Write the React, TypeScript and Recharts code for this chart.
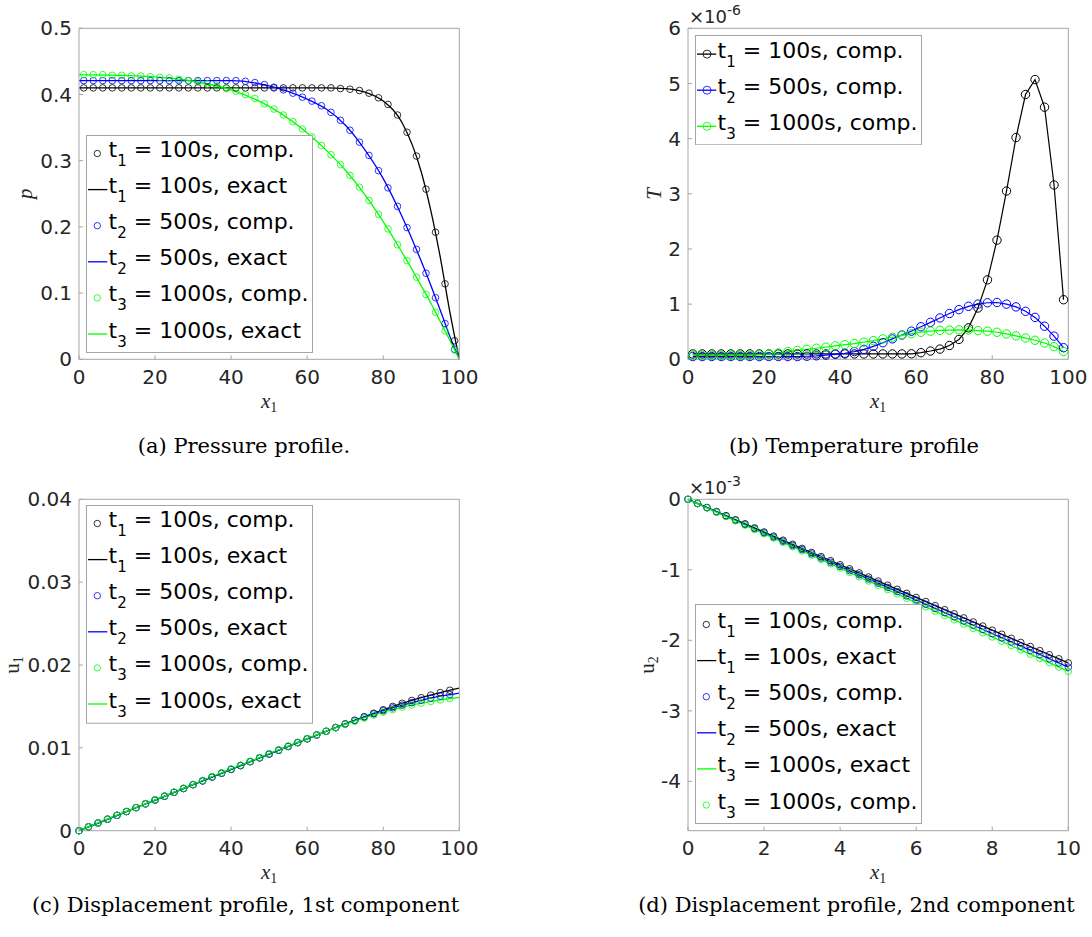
import React from "react";
import { LineChart, Line, XAxis, YAxis, Legend } from "recharts";

const FRAME = "#a5a5a5";
const INK = "#262626";
const BLACK = "#000000";
const BLUE = "#0000ff";
const GREEN = "#00ff00";

// (a) pressure and (b) temperature: cell centres
const xCells = [
  1.25, 3.75, 6.25, 8.75, 11.25, 13.75, 16.25, 18.75, 21.25, 23.75,
  26.25, 28.75, 31.25, 33.75, 36.25, 38.75, 41.25, 43.75, 46.25, 48.75,
  51.25, 53.75, 56.25, 58.75, 61.25, 63.75, 66.25, 68.75, 71.25, 73.75,
  76.25, 78.75, 81.25, 83.75, 86.25, 88.75, 91.25, 93.75, 96.25, 98.75,
];

const pComp1 = [
  0.41, 0.41, 0.41, 0.41, 0.41, 0.41, 0.41, 0.41, 0.41, 0.41,
  0.41, 0.41, 0.41, 0.41, 0.41, 0.41, 0.41, 0.41, 0.41, 0.41,
  0.41, 0.41, 0.41, 0.41, 0.41, 0.41, 0.41, 0.409, 0.408, 0.406,
  0.402, 0.395, 0.385, 0.369, 0.343, 0.307, 0.257, 0.192, 0.114, 0.028,
];
const pComp2 = [
  0.421, 0.421, 0.421, 0.421, 0.421, 0.421, 0.421, 0.421, 0.421, 0.421,
  0.421, 0.421, 0.421, 0.421, 0.421, 0.421, 0.421, 0.42, 0.418, 0.415,
  0.411, 0.407, 0.402, 0.396, 0.39, 0.383, 0.373, 0.361, 0.346, 0.328,
  0.308, 0.285, 0.259, 0.231, 0.199, 0.166, 0.13, 0.093, 0.054, 0.015,
];
const pComp3 = [
  0.43, 0.43, 0.43, 0.429, 0.429, 0.428, 0.428, 0.427, 0.426, 0.425,
  0.423, 0.421, 0.419, 0.416, 0.413, 0.409, 0.405, 0.4, 0.394, 0.386,
  0.378, 0.369, 0.359, 0.348, 0.336, 0.323, 0.309, 0.294, 0.278, 0.26,
  0.24, 0.219, 0.197, 0.173, 0.149, 0.124, 0.098, 0.071, 0.043, 0.014,
];
const pExactX = [0, 10, 20, 30, 40, 50, 60, 65, 70, 75, 80, 85, 90, 92.5, 95, 97.5, 100];
const pExact1 = [0.41, 0.41, 0.41, 0.41, 0.41, 0.41, 0.41, 0.41, 0.409, 0.404, 0.39, 0.357, 0.283, 0.225, 0.154, 0.072, 0];
const pExact2 = [0.421, 0.421, 0.421, 0.421, 0.421, 0.413, 0.393, 0.378, 0.354, 0.318, 0.273, 0.215, 0.148, 0.112, 0.074, 0.035, 0];
const pExact3 = [0.43, 0.429, 0.4265, 0.42, 0.407, 0.382, 0.342, 0.316, 0.286, 0.25, 0.208, 0.161, 0.111, 0.085, 0.057, 0.029, 0];

// (b) temperature, in units of 1e-6
const tComp1 = [
  0.097, 0.097, 0.097, 0.097, 0.097, 0.097, 0.097, 0.097, 0.097, 0.097,
  0.097, 0.097, 0.097, 0.097, 0.097, 0.097, 0.097, 0.097, 0.097, 0.097,
  0.097, 0.097, 0.097, 0.1, 0.12, 0.15, 0.185, 0.25, 0.36, 0.57,
  0.93, 1.44, 2.16, 3.05, 4.02, 4.8, 5.07, 4.57, 3.16, 1.08,
];
const tComp2 = [
  0.05, 0.05, 0.05, 0.05, 0.05, 0.05, 0.05, 0.05, 0.05, 0.05,
  0.05, 0.05, 0.055, 0.063, 0.075, 0.09, 0.11, 0.14, 0.18, 0.235,
  0.3, 0.37, 0.44, 0.51, 0.59, 0.67, 0.75, 0.83, 0.9, 0.96,
  1.0, 1.025, 1.03, 1.0, 0.95, 0.87, 0.76, 0.6, 0.42, 0.21,
];
const tComp3 = [
  0.07, 0.07, 0.07, 0.07, 0.07, 0.07, 0.07, 0.08, 0.095, 0.115,
  0.14, 0.16, 0.18, 0.2, 0.22, 0.245, 0.265, 0.285, 0.31, 0.34,
  0.37, 0.4, 0.435, 0.465, 0.49, 0.51, 0.525, 0.53, 0.535, 0.53,
  0.52, 0.51, 0.49, 0.46, 0.425, 0.385, 0.345, 0.295, 0.23, 0.14,
];

// (c) displacement u1: nodes
const uNodes = [
  0, 2.5, 5, 7.5, 10, 12.5, 15, 17.5, 20, 22.5,
  25, 27.5, 30, 32.5, 35, 37.5, 40, 42.5, 45, 47.5,
  50, 52.5, 55, 57.5, 60, 62.5, 65, 67.5, 70, 72.5,
  75, 77.5, 80, 82.5, 85, 87.5, 90, 92.5, 95, 97.5,
];
const uComp1 = [
  0, 0.00046, 0.00093, 0.00139, 0.00185, 0.00231, 0.00278, 0.00324, 0.0037, 0.00416,
  0.00463, 0.00509, 0.00555, 0.00601, 0.00648, 0.00694, 0.0074, 0.00786, 0.00833, 0.00879,
  0.00925, 0.00971, 0.01017, 0.01063, 0.01109, 0.01155, 0.012, 0.01245, 0.01289, 0.01333,
  0.01376, 0.01418, 0.0146, 0.015, 0.01537, 0.01572, 0.01605, 0.01637, 0.01667, 0.01695,
];
const uComp2 = [
  0, 0.00046, 0.00093, 0.00139, 0.00185, 0.00231, 0.00278, 0.00324, 0.0037, 0.00416,
  0.00463, 0.00509, 0.00555, 0.00601, 0.00648, 0.00694, 0.0074, 0.00786, 0.00833, 0.00879,
  0.00925, 0.00971, 0.01017, 0.01063, 0.01109, 0.01155, 0.012, 0.01245, 0.01288, 0.0133,
  0.01371, 0.0141, 0.01448, 0.01483, 0.01515, 0.01546, 0.01574, 0.016, 0.01623, 0.01643,
];
const uComp3 = [
  0, 0.00047, 0.00094, 0.0014, 0.00187, 0.00233, 0.0028, 0.00327, 0.00373, 0.0042,
  0.00466, 0.00513, 0.00559, 0.00606, 0.00652, 0.00699, 0.00745, 0.00791, 0.00838, 0.00884,
  0.0093, 0.00976, 0.01022, 0.01067, 0.01112, 0.01156, 0.012, 0.01243, 0.01284, 0.01322,
  0.0136, 0.01396, 0.0143, 0.01462, 0.01491, 0.01517, 0.0154, 0.0156, 0.01578, 0.01594,
];
const uExactX = [0, 10, 20, 30, 40, 50, 60, 70, 80, 85, 90, 95, 100];
const uExact1 = [0, 0.00185, 0.0037, 0.00555, 0.0074, 0.00925, 0.01109, 0.01289, 0.0146, 0.01537, 0.01605, 0.01667, 0.0172];
const uExact2 = [0, 0.00185, 0.0037, 0.00555, 0.0074, 0.00925, 0.01109, 0.01288, 0.01448, 0.01515, 0.01574, 0.01623, 0.0166];
const uExact3 = [0, 0.00187, 0.00373, 0.00559, 0.00745, 0.0093, 0.01112, 0.01284, 0.0143, 0.01491, 0.0154, 0.01578, 0.0161];

// (d) displacement u2, in units of 1e-3
const vNodes = [
  0, 0.25, 0.5, 0.75, 1, 1.25, 1.5, 1.75, 2, 2.25,
  2.5, 2.75, 3, 3.25, 3.5, 3.75, 4, 4.25, 4.5, 4.75,
  5, 5.25, 5.5, 5.75, 6, 6.25, 6.5, 6.75, 7, 7.25,
  7.5, 7.75, 8, 8.25, 8.5, 8.75, 9, 9.25, 9.5, 9.75, 10,
];
const vComp1 = [
  0, -0.058, -0.116, -0.174, -0.232, -0.29, -0.348, -0.406, -0.464, -0.522,
  -0.58, -0.638, -0.696, -0.754, -0.812, -0.87, -0.928, -0.986, -1.044, -1.102,
  -1.16, -1.218, -1.276, -1.334, -1.392, -1.45, -1.508, -1.566, -1.624, -1.682,
  -1.74, -1.798, -1.856, -1.914, -1.972, -2.03, -2.088, -2.146, -2.204, -2.262, -2.32,
];
const vComp2 = [
  0, -0.06, -0.119, -0.179, -0.238, -0.298, -0.357, -0.417, -0.476, -0.536,
  -0.595, -0.655, -0.714, -0.774, -0.833, -0.893, -0.952, -1.012, -1.071, -1.131,
  -1.19, -1.25, -1.309, -1.369, -1.428, -1.488, -1.547, -1.607, -1.666, -1.726,
  -1.785, -1.845, -1.904, -1.964, -2.023, -2.083, -2.142, -2.202, -2.261, -2.321, -2.38,
];
const vComp3 = [
  0, -0.061, -0.122, -0.183, -0.244, -0.305, -0.366, -0.427, -0.488, -0.549,
  -0.61, -0.671, -0.732, -0.793, -0.854, -0.915, -0.976, -1.037, -1.098, -1.159,
  -1.22, -1.281, -1.342, -1.403, -1.464, -1.525, -1.586, -1.647, -1.708, -1.769,
  -1.83, -1.891, -1.952, -2.013, -2.074, -2.135, -2.196, -2.257, -2.318, -2.379, -2.44,
];
const vExactX = [0, 5, 10];
const vExact1 = [0, -1.16, -2.32];
const vExact2 = [0, -1.19, -2.38];
const vExact3 = [0, -1.22, -2.44];

const xTicks100 = [0, 20, 40, 60, 80, 100];
const xTicks10 = [0, 2, 4, 6, 8, 10];
const pTicks = [0, 0.1, 0.2, 0.3, 0.4, 0.5];
const tTicks = [0, 1, 2, 3, 4, 5, 6];
const uTicks = [0, 0.01, 0.02, 0.03, 0.04];
const vTicks = [-4, -3, -2, -1, 0];

type Kind = "comp" | "exact" | "both";
type Series = { xs: number[]; ys: number[]; color: string; kind: Kind; sub: string; label: string };

const zip = (xs: number[], ys: number[]) => xs.map((x, i) => ({ x, y: ys[i] }));

const tickStyle = { fontSize: 20, fill: INK, fontFamily: "DejaVu Sans" };

function renderLine(s: Series, i: number) {
  const data = zip(s.xs, s.ys);
  if (s.kind === "exact") {
    return (
      <Line key={i} xAxisId="b" yAxisId="l" data={data} dataKey="y" type="monotone"
        stroke={s.color} strokeWidth={1.3} dot={false} activeDot={false} isAnimationActive={false} />
    );
  }
  if (s.kind === "both") {
    return (
      <Line key={i} xAxisId="b" yAxisId="l" data={data} dataKey="y" type="linear"
        stroke={s.color} strokeWidth={1.2}
        dot={{ r: 4.2, stroke: s.color, strokeWidth: 1, fill: "none" }}
        activeDot={false} isAnimationActive={false} />
    );
  }
  return (
    <Line key={i} xAxisId="b" yAxisId="l" data={data} dataKey="y" type="linear"
      stroke="none" dot={{ r: 3.3, stroke: s.color, strokeWidth: 0.8, fill: "none" }}
      activeDot={false} isAnimationActive={false} />
  );
}

function LegendSvg({ rows, h, first }: { rows: Series[]; h: number; first: number }) {
  return (
    <svg width={227} height={h} style={{ display: "block" }}>
      <rect x={0.5} y={0.5} width={226} height={h - 1} fill="#fff" stroke={FRAME} />
      {rows.map((s, i) => {
        const by = first + i * 36.1;
        const my = by - 3.5;
        return (
          <g key={i}>
            {s.kind !== "comp" && (
              <line x1={2} x2={21.3} y1={my} y2={my} stroke={s.color} strokeWidth={1.3} />
            )}
            {s.kind !== "exact" && (
              <circle cx={s.kind === "both" ? 12 : 11.3} cy={my} r={s.kind === "both" ? 4 : 3.2}
                fill="none" stroke={s.color} strokeWidth={0.8} />
            )}
            <text x={22.6} y={by} fontFamily="DejaVu Sans" fontSize={22} fill="#000" style={{ whiteSpace: "pre" }}>
              t<tspan fontSize={15} dy={9}>{s.sub}</tspan>
              <tspan dy={-9}>{" = " + s.label}</tspan>
            </text>
          </g>
        );
      })}
    </svg>
  );
}

const xLabel = (props: any) => {
  const vb = props.viewBox;
  const cx = vb.x + vb.width / 2;
  const y = vb.y + 48.7;
  return (
    <text x={cx} y={y} textAnchor="middle" fontFamily="Liberation Serif" fontSize={21} fill={INK}>
      <tspan fontStyle="italic">x</tspan>
      <tspan fontSize={14} dy={4}>1</tspan>
    </text>
  );
};

const makeYLabel = (name: string, sub: string, italic: boolean, dx: number, exponent: string) => (props: any) => {
  const vb = props.viewBox;
  const cx = vb.x + vb.width + dx;
  const cy = vb.y + vb.height / 2;
  const px = vb.x + vb.width + 1;
  return (
    <g>
      <text x={cx} y={cy} transform={`rotate(-90 ${cx} ${cy})`} textAnchor="middle"
        fontFamily="Liberation Serif" fontSize={21} fill={INK}>
        <tspan fontStyle={italic ? "italic" : "normal"}>{name}</tspan>
        {sub ? <tspan fontSize={14} dy={4}>{sub}</tspan> : null}
      </text>
      {exponent ? (
        <text x={px} y={vb.y - 5} fontFamily="DejaVu Sans" fontSize={18} fill={INK}>
          ×10<tspan fontSize={14} dy={-8}>{exponent}</tspan>
        </text>
      ) : null}
    </g>
  );
};

type PanelProps = {
  left: number;
  top: number;
  width: number;
  height: number;
  plot: [number, number, number, number];
  xDomain: [number, number];
  xTicks: number[];
  yDomain: [number, number];
  yTicks: number[];
  series: Series[];
  legendRows: Series[];
  legendBox: [number, number, number, number];
  yName: string;
  ySub: string;
  yItalic: boolean;
  yDx: number;
  exponent: string;
};

function Panel(p: PanelProps) {
  const [x0, x1, y0, y1] = p.plot;
  const [lx, ly, lh, lfirst] = p.legendBox;
  return (
    <div style={{ position: "absolute", left: p.left, top: p.top }}>
      <LineChart width={p.width} height={p.height}
        margin={{ top: y0 - 1, left: x0 - 1, right: p.width - x1 - 1, bottom: p.height - y1 - 1 }}>
        <XAxis xAxisId="b" type="number" dataKey="x" domain={p.xDomain} ticks={p.xTicks} interval={0}
          height={1} tickSize={-4} tickMargin={14.5} stroke={FRAME} tick={tickStyle} label={xLabel} />
        <XAxis xAxisId="t" orientation="top" type="number" dataKey="x" domain={p.xDomain} ticks={p.xTicks}
          interval={0} height={1} tickSize={-4} stroke={FRAME} tick={false} />
        <YAxis yAxisId="l" type="number" domain={p.yDomain} ticks={p.yTicks} interval={0}
          width={1} tickSize={-4} tickMargin={11} stroke={FRAME} tick={tickStyle}
          label={makeYLabel(p.yName, p.ySub, p.yItalic, p.yDx, p.exponent)} />
        <YAxis yAxisId="r" orientation="right" type="number" domain={p.yDomain} ticks={p.yTicks}
          interval={0} width={1} tickSize={-4} stroke={FRAME} tick={false} />
        {p.series.map(renderLine)}
        <Legend layout="vertical" align="center" verticalAlign="middle"
          wrapperStyle={{ left: lx, top: ly, width: 227, height: lh }}
          content={() => <LegendSvg rows={p.legendRows} h={lh} first={lfirst} />} />
      </LineChart>
    </div>
  );
}

function Caption({ cx, baseline, text }: { cx: number; baseline: number; text: string }) {
  return (
    <div style={{
      position: "absolute", left: cx - 300, width: 600, top: baseline - 17.8, textAlign: "center",
      fontFamily: "DejaVu Serif", fontSize: 21, lineHeight: "21px", color: "#000", whiteSpace: "nowrap",
    }}>
      {text}
    </div>
  );
}

const pSeries: Series[] = [
  { xs: xCells, ys: pComp1, color: BLACK, kind: "comp", sub: "1", label: "100s, comp." },
  { xs: pExactX, ys: pExact1, color: BLACK, kind: "exact", sub: "1", label: "100s, exact" },
  { xs: xCells, ys: pComp2, color: BLUE, kind: "comp", sub: "2", label: "500s, comp." },
  { xs: pExactX, ys: pExact2, color: BLUE, kind: "exact", sub: "2", label: "500s, exact" },
  { xs: xCells, ys: pComp3, color: GREEN, kind: "comp", sub: "3", label: "1000s, comp." },
  { xs: pExactX, ys: pExact3, color: GREEN, kind: "exact", sub: "3", label: "1000s, exact" },
];
const tSeries: Series[] = [
  { xs: xCells, ys: tComp1, color: BLACK, kind: "both", sub: "1", label: "100s, comp." },
  { xs: xCells, ys: tComp2, color: BLUE, kind: "both", sub: "2", label: "500s, comp." },
  { xs: xCells, ys: tComp3, color: GREEN, kind: "both", sub: "3", label: "1000s, comp." },
];
const uSeries: Series[] = [
  { xs: uNodes, ys: uComp1, color: BLACK, kind: "comp", sub: "1", label: "100s, comp." },
  { xs: uExactX, ys: uExact1, color: BLACK, kind: "exact", sub: "1", label: "100s, exact" },
  { xs: uNodes, ys: uComp2, color: BLUE, kind: "comp", sub: "2", label: "500s, comp." },
  { xs: uExactX, ys: uExact2, color: BLUE, kind: "exact", sub: "2", label: "500s, exact" },
  { xs: uNodes, ys: uComp3, color: GREEN, kind: "comp", sub: "3", label: "1000s, comp." },
  { xs: uExactX, ys: uExact3, color: GREEN, kind: "exact", sub: "3", label: "1000s, exact" },
];
const vSeries: Series[] = [
  { xs: vNodes, ys: vComp1, color: BLACK, kind: "comp", sub: "1", label: "100s, comp." },
  { xs: vExactX, ys: vExact1, color: BLACK, kind: "exact", sub: "1", label: "100s, exact" },
  { xs: vNodes, ys: vComp2, color: BLUE, kind: "comp", sub: "2", label: "500s, comp." },
  { xs: vExactX, ys: vExact2, color: BLUE, kind: "exact", sub: "2", label: "500s, exact" },
  { xs: vExactX, ys: vExact3, color: GREEN, kind: "exact", sub: "3", label: "1000s, exact" },
  { xs: vNodes, ys: vComp3, color: GREEN, kind: "comp", sub: "3", label: "1000s, comp." },
];

export default function App() {
  return (
    <div style={{ position: "absolute", left: 0, top: 0, width: 1092, height: 937, background: "#fff", overflow: "hidden" }}>
      <Panel left={0} top={0} width={546} height={430} plot={[79, 459.3, 28.3, 359.3]}
        xDomain={[0, 100]} xTicks={xTicks100} yDomain={[0, 0.5]} yTicks={pTicks}
        series={pSeries} legendRows={pSeries} legendBox={[85.7, 134.7, 218, 22]}
        yName="p" ySub="" yItalic yDx={-46.5} exponent="" />
      <Panel left={546} top={0} width={546} height={430} plot={[142, 522.3, 28.3, 359.3]}
        xDomain={[0, 100]} xTicks={xTicks100} yDomain={[0, 6]} yTicks={tTicks}
        series={tSeries} legendRows={tSeries} legendBox={[148.7, 34.7, 110.3, 22.6]}
        yName="T" ySub="" yItalic yDx={-27} exponent="-6" />
      <Panel left={0} top={465} width={546} height={430} plot={[79, 459.3, 34.3, 365.7]}
        xDomain={[0, 100]} xTicks={xTicks100} yDomain={[0, 0.04]} yTicks={uTicks}
        series={uSeries} legendRows={uSeries} legendBox={[85.7, 40.3, 218.7, 22]}
        yName="u" ySub="1" yItalic={false} yDx={-60.5} exponent="" />
      <Panel left={546} top={465} width={546} height={430} plot={[142, 522.3, 34.3, 365.7]}
        xDomain={[0, 10]} xTicks={xTicks10} yDomain={[-4.7, 0]} yTicks={vTicks}
        series={vSeries} legendRows={vSeries}
        legendBox={[148.7, 139.3, 220, 24]}
        yName="u" ySub="2" yItalic={false} yDx={-34} exponent="-3" />
      <Caption cx={244} baseline={454} text="(a) Pressure profile." />
      <Caption cx={854} baseline={454} text="(b) Temperature profile" />
      <Caption cx={245.5} baseline={912.5} text="(c) Displacement profile, 1st component" />
      <Caption cx={856.5} baseline={912.5} text="(d) Displacement profile, 2nd component" />
    </div>
  );
}
